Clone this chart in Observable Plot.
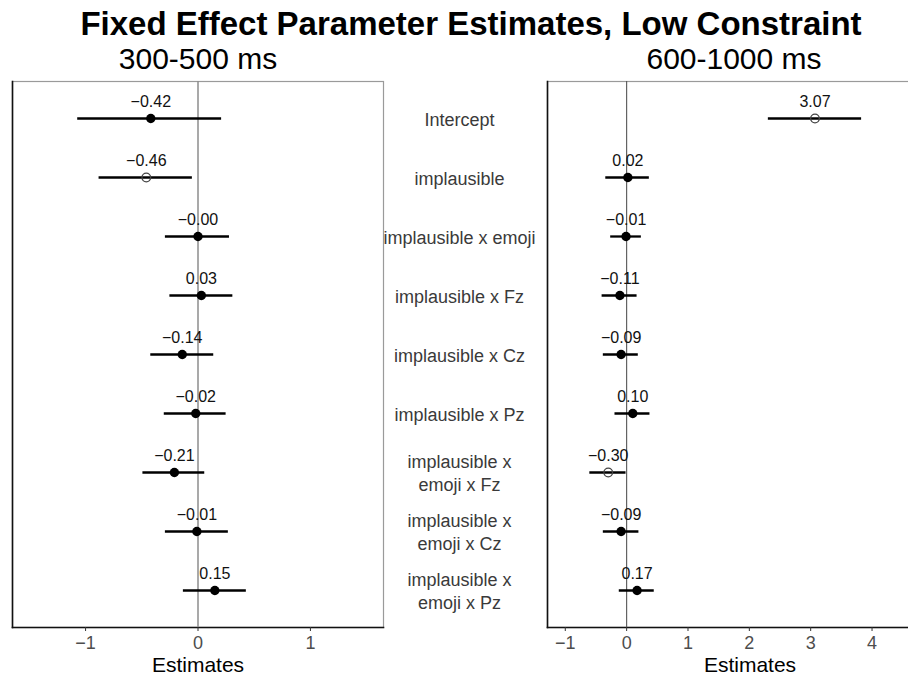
<!DOCTYPE html>
<html>
<head>
<meta charset="utf-8">
<script src="https://cdn.jsdelivr.net/npm/d3@7"></script>
<script src="https://cdn.jsdelivr.net/npm/@observablehq/plot@0.6"></script>
<style>
  html, body { margin: 0; padding: 0; background: #fff; overflow: hidden; }
  #fig { position: relative; width: 908px; height: 678px; overflow: hidden;
         font-family: "Liberation Sans", Arial, Helvetica, sans-serif; background: #fff; }
  .t { position: absolute; line-height: 1; white-space: nowrap; color: #000; transform: translateX(-50%); }
  #title { font-size: 33px; font-weight: bold; top: 7px; left: 471px; }
  .sub { font-size: 30px; top: 44px; }
  #fig svg { position: absolute; top: 79px; }
</style>
</head>
<body>
<div id="fig">
  <div id="title" class="t">Fixed Effect Parameter Estimates, Low Constraint</div>
  <div class="t sub" style="left:198px">300-500 ms</div>
  <div class="t sub" style="left:734px">600-1000 ms</div>
</div>
<script>
// Model terms, top to bottom
const terms = [
  "Intercept",
  "implausible",
  "implausible x emoji",
  "implausible x Fz",
  "implausible x Cz",
  "implausible x Pz",
  "implausible x\nemoji x Fz",
  "implausible x\nemoji x Cz",
  "implausible x\nemoji x Pz"
];

// 300-500 ms window: estimates and 95% CI bounds
const estEarly = [-0.42, -0.46, -0.00, 0.03, -0.14, -0.02, -0.21, -0.01, 0.15];
const loEarly  = [-1.07, -0.88, -0.29, -0.25, -0.42, -0.30, -0.49, -0.29, -0.13];
const hiEarly  = [ 0.21, -0.05,  0.28,  0.31,  0.14,  0.25,  0.06,  0.27,  0.43];

// 600-1000 ms window: estimates and 95% CI bounds
const estLate = [3.07, 0.02, -0.01, -0.11, -0.09, 0.10, -0.30, -0.09, 0.17];
const loLate  = [2.31, -0.34, -0.26, -0.40, -0.38, -0.19, -0.60, -0.38, -0.12];
const hiLate  = [3.83,  0.37,  0.24,  0.17,  0.19,  0.38, -0.01,  0.20,  0.45];

// Axis ticks for each panel
const ticksEarly = [-1, 0, 1];
const ticksLate = [-1, 0, 1, 2, 3, 4];

// Two-decimal label with a true minus sign (keeps "−0.00")
const fmt = v => (v < 0 || Object.is(v, -0) ? "\u2212" : "") + Math.abs(v).toFixed(2);
// Integer tick labels with a true minus sign
const tickFmt = v => (v < 0 ? "\u2212" : "") + Math.abs(v);

function panel({est, lo, hi, domain, ticks, width, marginLeft, marginRight, showTerms, zeroStroke, zeroWidth, titleDx}) {
  const rows = terms.map((term, i) => ({
    term, est: est[i], lo: lo[i], hi: hi[i],
    // open symbol when the interval excludes zero
    sig: lo[i] > 0 || hi[i] < 0
  }));
  return Plot.plot({
    width,
    height: 599,
    marginTop: 2,
    marginBottom: 51,
    marginLeft,
    marginRight,
    style: {
      fontFamily: "'Liberation Sans', Arial, Helvetica, sans-serif",
      fontSize: "16px",
      background: "transparent",
      maxWidth: "none",
      overflow: "visible"
    },
    x: {domain, ticks},
    y: {type: "point", domain: terms, padding: 0.6, axis: null},
    marks: [
      Plot.frame({stroke: "#9a9a9a", strokeWidth: 1.2}),
      Plot.frame({anchor: "left", stroke: "#111", strokeWidth: 1.6}),
      Plot.frame({anchor: "bottom", stroke: "#111", strokeWidth: 1.6}),
      Plot.ruleX([0], {stroke: zeroStroke, strokeWidth: zeroWidth}),
      Plot.axisX({
        ticks, tickFormat: tickFmt, tickSize: 4, tickPadding: 5, fontSize: 18,
        fill: "#4d4d4d", stroke: "#333", label: null
      }),
      showTerms ? Plot.axisY({
        tickSize: 0, tickPadding: 88, textAnchor: "middle",
        fontSize: 18, lineHeight: 1.25, fill: "#3a3a3a", label: null
      }) : null,
      Plot.ruleY(rows, {y: "term", x1: "lo", x2: "hi", stroke: "#000", strokeWidth: 2.3}),
      Plot.dot(rows.filter(d => !d.sig), {x: "est", y: "term", r: 4.7, fill: "#000", stroke: "none"}),
      Plot.dot(rows.filter(d => d.sig), {x: "est", y: "term", r: 4.3, fill: "none", stroke: "#444", strokeWidth: 1.3}),
      Plot.text(rows, {x: "est", y: "term", text: d => fmt(d.est), dy: -17, fontSize: 16, fill: "#111"}),
      Plot.text(["Estimates"], {frameAnchor: "bottom", dy: 44, dx: titleDx, fontSize: 21, fill: "#000"})
    ]
  });
}

const fig = document.getElementById("fig");

const left = panel({
  est: estEarly, lo: loEarly, hi: hiEarly,
  domain: [-1.65, 1.65], ticks: ticksEarly,
  width: 395, marginLeft: 12, marginRight: 12,
  showTerms: false, zeroStroke: "#8c8c8c", zeroWidth: 1.5, titleDx: 0
});
left.style.left = "0px";
fig.appendChild(left);

const right = panel({
  est: estLate, lo: loLate, hi: hiLate,
  domain: [-1.29, 4.79], ticks: ticksLate,
  width: 558, marginLeft: 180, marginRight: 5,
  showTerms: true, zeroStroke: "#555", zeroWidth: 1.1, titleDx: 16
});
right.style.left = "367px";
fig.appendChild(right);
</script>
</body>
</html>
